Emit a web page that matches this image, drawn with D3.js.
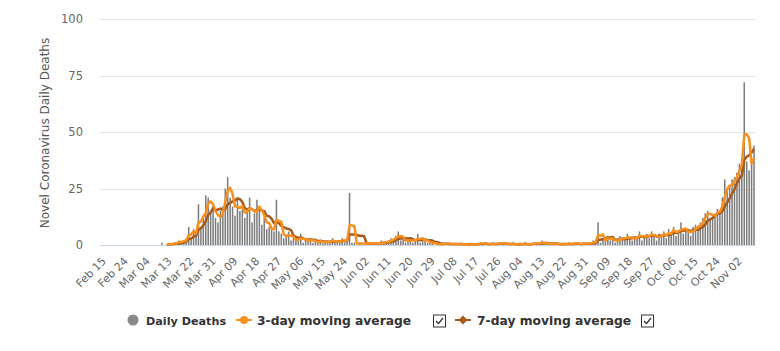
<!DOCTYPE html>
<html>
<head>
<meta charset="utf-8">
<script src="https://cdn.jsdelivr.net/npm/d3@7"></script>
<style>
  body { margin: 0; background: #fff; }
  #chart { width: 780px; height: 351px; }
  text { font-family: "DejaVu Sans", sans-serif; }
</style>
</head>
<body>
<div id="chart"></div>
<script>
//### DATA ###
// first category is Feb 15, one entry per day up to Nov 09
const startDate = '2020-02-15';

const dailyDeaths = [
  0,0,0,0,0,0,0,0,0,0, 0,0,0,0,0,0,0,0,0,0, 0,0,0,0,0,
  1,0,0,1,0,1,1,2,1,2,3,
  8,3,7,5,18,8,12,22,21,15,
  18,12,10,15,17,25,30,21,17,13,
  21,15,16,12,16,21,10,14,20,17,
  9,14,7,8,7,6,20,6,5,3,
  4,6,2,3,2,2,5,1,2,2,
  3,1,2,1,2,1,1,2,1,3,
  1,1,2,3,1,2,23,1,1,0,
  1,1,0,1,1,0,1,1,0,2,
  1,1,2,3,2,4,6,2,3,1,
  2,3,1,2,5,1,3,2,1,1,
  1,0,1,0,0,1,1,0,0,1,
  0,0,1,0,0,0,1,0,0,1,
  1,0,1,0,0,1,0,1,1,0,
  1,0,0,1,0,0,1,0,1,0,
  0,1,1,0,1,2,0,1,0,1,
  0,1,0,0,1,0,1,0,1,1,
  0,0,1,1,0,1,2,1,10,1,
  3,2,4,2,3,1,2,4,3,2,
  5,3,2,4,3,6,2,4,5,3,
  6,4,2,5,4,6,3,7,5,8,
  4,6,10,5,7,6,4,8,9,7,
  10,12,14,15,12,13,14,16,14,21,
  29,24,26,29,30,32,36,38,72,37,
  33,38,44
];

// moving averages start at category 27 (Mar 13)
const avgStart = 27;

const avg3Day = [
  0.3,0.3,0.3,0.7,0.7,1.3,1.3,1.7,2,
  4.3,4.7,6,5,10,10.3,12.7,14,18.3,19.3,
  18,15,13.3,12.3,14,19,24,25.3,22.7,17,
  17,16.3,17.3,14.3,14.7,16.3,15.7,15,14.7,17,
  15.3,13.3,10,9.7,7.3,7,11,10.7,10.3,4.7,
  4,4.3,4,3.7,2.3,2.3,3,2.7,2.7,1.7,
  2.3,2,2,1.3,1.7,1.3,1.3,1.3,1.3,2,
  1.7,1.7,1.3,2,2,2,8.7,8.7,8.3,0.7,
  0.7,0.7,0.7,0.7,0.7,0.7,0.7,0.7,0.7,1,
  1,1.3,1.3,2,2.3,3,4,4,3.7,2,
  2,2,2,2,2.7,2.7,3,2,2,1.3,
  1,0.7,0.7,0.3,0.3,0.3,0.7,0.7,0.3,0.3,
  0.3,0.3,0.3,0.3,0.3,0,0.3,0.3,0.3,0.3,
  0.7,0.7,0.7,0.3,0.3,0.3,0.3,0.7,0.7,0.7,
  0.7,0.3,0.3,0.3,0.3,0.3,0.3,0.3,0.7,0.3,
  0.3,0.3,0.7,0.7,0.7,1,1,1,0.3,0.7,
  0.3,0.7,0.3,0.3,0.3,0.3,0.7,0.3,0.7,0.7,
  0.7,0.3,0.3,0.7,0.7,0.7,1,1.3,4.3,4,
  4.7,2,3,2.7,3,2,2,2.3,3,3,
  3.3,3.3,3.3,3,3,4.3,3.7,4,3.7,4,
  4.7,4.3,4,3.7,3.7,5,4.3,5.3,5,6.7,
  5.7,6,6.7,7,7.3,6,5.7,6,7,8,
  8.7,9.7,12,13.7,13.7,13.3,13,14.3,14.7,17,
  21.3,24.7,26.3,26.3,28.3,30.3,32.7,35.3,48.7,49,
  47.3,36,38.3
];

const avg7Day = [
  0.1,0.3,0.3,0.4,0.6,0.7,0.9,1.1,1.4,
  2.6,2.9,3.7,4.1,6.6,7.4,8.7,10.7,13.3,14.4,
  16.3,15.4,15.7,16.1,15.4,16,18.1,18.6,19.3,19.7,
  20.6,20.3,19,16.4,15.7,16.3,15.9,14.9,15.6,15.7,
  15.3,15,13,12.7,11.7,9.7,10.1,9.7,8.4,7.9,
  7.3,7.1,6.6,4.1,3.6,3.1,3.4,3,2.4,2.4,
  2.4,2.3,2.3,1.7,1.9,1.7,1.6,1.4,1.4,1.6,
  1.6,1.4,1.6,1.9,1.7,1.9,4.7,4.7,4.7,4.4,
  4.1,4.1,3.9,0.7,0.7,0.6,0.7,0.7,0.6,0.9,
  0.9,0.9,1.1,1.4,1.6,2.1,2.7,2.9,3.1,3,
  2.9,3,2.6,2,2.4,2.1,2.4,2.4,2.1,2.1,
  2,1.3,1.3,0.9,0.6,0.6,0.6,0.4,0.4,0.4,
  0.4,0.4,0.4,0.3,0.3,0.3,0.3,0.3,0.3,0.3,
  0.4,0.4,0.6,0.4,0.4,0.6,0.4,0.4,0.6,0.4,
  0.6,0.6,0.4,0.6,0.4,0.3,0.4,0.3,0.4,0.4,
  0.3,0.4,0.6,0.4,0.6,0.7,0.7,0.9,0.7,0.7,
  0.7,0.7,0.4,0.4,0.4,0.4,0.4,0.4,0.4,0.6,
  0.6,0.4,0.6,0.6,0.6,0.6,0.7,0.9,2.3,2.3,
  2.6,2.9,3.3,3.3,3.6,2.3,2.4,2.6,2.7,2.4,
  2.9,2.9,3,3.3,3.1,3.6,3.6,3.4,3.7,3.9,
  4.1,4.3,3.7,4.1,4.1,4.3,4.3,4.4,4.6,5.4,
  5.3,5.6,6.1,6.4,6.4,6.6,6,6.6,7,6.6,
  7.3,8,9.1,10.7,11.3,11.9,12.9,13.7,14,15,
  17,18.7,20.6,22.7,24.7,27.3,29.4,30.7,37.6,39.1,
  39.7,40.9,42.6
];

// a label every 9th category
const tickEvery = 9;
const xTickLabels = [
  'Feb 15','Feb 24','Mar 04','Mar 13','Mar 22','Mar 31','Apr 09','Apr 18',
  'Apr 27','May 06','May 15','May 24','Jun 02','Jun 11','Jun 20','Jun 29',
  'Jul 08','Jul 17','Jul 26','Aug 04','Aug 13','Aug 22','Aug 31','Sep 09',
  'Sep 18','Sep 27','Oct 06','Oct 15','Oct 24','Nov 02'
];
const yTicks = [ 0, 25, 50, 75, 100 ];


//### DRAW ###
const W = 780, H = 351;
const plot = { left: 100, right: 755, top: 19, bottom: 245 };

//>>> Colours:
const barColor = '#7c7c7c';
const orange = '#f7901e';
const brown = '#a65a1c';
const labelColor = '#666666';

const svg = d3.select( '#chart' ).append( 'svg' )
  .attr( 'width', W )
  .attr( 'height', H );

//_____ SCALES _____
const x = d3.scaleBand()
  .domain( d3.range( dailyDeaths.length ) )
  .range( [ plot.left, plot.right ] )
  .paddingInner( 0.38 )
  .paddingOuter( 0.1 );

const cx = i => x( i ) + x.bandwidth() / 2;

const y = d3.scaleLinear()
  .domain( [ 0, 100 ] )
  .range( [ plot.bottom, plot.top ] );

//_____ GRID _____
svg.append( 'g' )
  .selectAll( 'line' )
  .data( yTicks.filter( t => t > 0 ) )
  .join( 'line' )
  .attr( 'x1', plot.left )
  .attr( 'x2', plot.right )
  .attr( 'y1', d => Math.round( y( d ) ) + 0.5 )
  .attr( 'y2', d => Math.round( y( d ) ) + 0.5 )
  .attr( 'stroke', '#e6e6e6' );

//_____ Y AXIS _____
const yAxis = d3.axisLeft( y )
  .tickValues( yTicks )
  .tickSize( 0 )
  .tickPadding( 0 );

svg.append( 'g' )
  .attr( 'transform', `translate( ${plot.left - 17}, 0 )` )
  .call( yAxis )
  .call( g => g.select( '.domain' ).remove() )
  .call( g => g.selectAll( 'text' )
    .attr( 'fill', labelColor )
    .style( 'font-size', '11.5px' )
    .style( 'font-family', '"DejaVu Sans", sans-serif' ) );

svg.append( 'text' )
  .attr( 'transform', `translate( 49, ${( plot.top + plot.bottom ) / 2 + 1} ) rotate( -90 )` )
  .attr( 'text-anchor', 'middle' )
  .attr( 'fill', '#555' )
  .style( 'font-size', '12px' )
  .text( 'Novel Coronavirus Daily Deaths' );

//_____ BARS _____
svg.append( 'g' )
  .selectAll( 'rect' )
  .data( dailyDeaths.map( ( v, i ) => ( { i, v } ) ).filter( d => d.v > 0 ) )
  .join( 'rect' )
  .attr( 'x', d => x( d.i ) )
  .attr( 'width', x.bandwidth() )
  .attr( 'y', d => y( d.v ) )
  .attr( 'height', d => y( 0 ) - y( d.v ) )
  .attr( 'fill', barColor );

//_____ X AXIS _____
svg.append( 'line' )
  .attr( 'x1', plot.left )
  .attr( 'x2', plot.right )
  .attr( 'y1', plot.bottom + 0.5 )
  .attr( 'y2', plot.bottom + 0.5 )
  .attr( 'stroke', '#ccd6eb' );

svg.append( 'g' )
  .selectAll( 'text' )
  .data( xTickLabels )
  .join( 'text' )
  .attr( 'transform', ( d, k ) => `translate( ${cx( k * tickEvery ) + 3}, 259 ) rotate( -45 )` )
  .attr( 'text-anchor', 'end' )
  .attr( 'dy', '0.35em' )
  .attr( 'fill', labelColor )
  .style( 'font-size', '11px' )
  .text( d => d );

//_____ MOVING AVERAGES _____
const line = d3.line()
  .x( ( d, k ) => cx( avgStart + k ) )
  .y( d => y( d ) );

svg.append( 'path' )
  .datum( avg7Day )
  .attr( 'd', line )
  .attr( 'fill', 'none' )
  .attr( 'stroke', brown )
  .attr( 'stroke-width', 2.5 )
  .attr( 'stroke-linejoin', 'round' );

svg.append( 'path' )
  .datum( avg3Day )
  .attr( 'd', line )
  .attr( 'fill', 'none' )
  .attr( 'stroke', orange )
  .attr( 'stroke-width', 2.5 )
  .attr( 'stroke-linejoin', 'round' );

//_____ LEGEND _____
const legend = svg.append( 'g' )
  .attr( 'transform', 'translate( 0, 320 )' );

const legendText = ( xPos, label, size ) => legend.append( 'text' )
  .attr( 'x', xPos )
  .attr( 'y', 4.5 )
  .attr( 'fill', '#333' )
  .style( 'font-size', size + 'px' )
  .style( 'font-weight', 'bold' )
  .text( label );

const checkbox = xPos => {
  const g = legend.append( 'g' ).attr( 'transform', `translate( ${xPos}, -5.5 )` );
  g.append( 'rect' )
    .attr( 'x', 0.5 ).attr( 'y', 0.5 )
    .attr( 'width', 12 ).attr( 'height', 12 )
    .attr( 'fill', '#fff' )
    .attr( 'stroke', '#333' );
  g.append( 'path' )
    .attr( 'd', 'M3,6.5 L5.5,9 L10,3.5' )
    .attr( 'fill', 'none' )
    .attr( 'stroke', '#333' )
    .attr( 'stroke-width', 1.3 );
};

//>>> Daily deaths:
legend.append( 'circle' )
  .attr( 'cx', 133 ).attr( 'cy', 0 ).attr( 'r', 5.5 )
  .attr( 'fill', '#888' );
legendText( 146, 'Daily Deaths', 11.2 );

//>>> 3-day:
legend.append( 'line' )
  .attr( 'x1', 236 ).attr( 'x2', 252 )
  .attr( 'stroke', orange ).attr( 'stroke-width', 2 );
legend.append( 'circle' )
  .attr( 'cx', 244 ).attr( 'cy', 0 ).attr( 'r', 4 )
  .attr( 'fill', orange );
legendText( 257, '3-day moving average', 12.3 );
checkbox( 433 );

//>>> 7-day:
legend.append( 'line' )
  .attr( 'x1', 455 ).attr( 'x2', 471 )
  .attr( 'stroke', brown ).attr( 'stroke-width', 2 );
legend.append( 'path' )
  .attr( 'd', 'M463,-4.5 L467.5,0 L463,4.5 L458.5,0 Z' )
  .attr( 'fill', brown );
legendText( 477, '7-day moving average', 12.3 );
checkbox( 641 );
</script>
</body>
</html>
